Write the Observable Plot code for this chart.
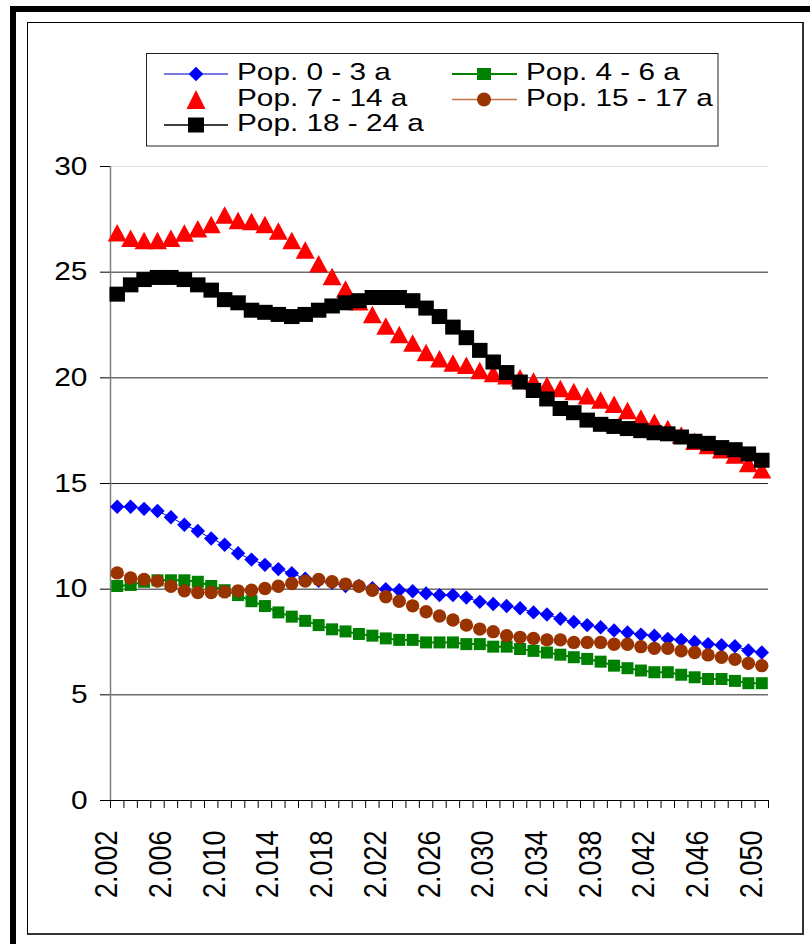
<!DOCTYPE html>
<html><head><meta charset="utf-8">
<script src="https://cdn.jsdelivr.net/npm/d3@7"></script>
<script src="https://cdn.jsdelivr.net/npm/@observablehq/plot@0.6"></script>
<style>
html,body{margin:0;padding:0;background:#fff;}
#wrap{position:relative;width:810px;height:944px;overflow:hidden;background:#fff;font-family:"Liberation Sans",Arial,sans-serif;}
#outer{position:absolute;left:10px;top:6px;width:820px;height:960px;border-left:6px solid #000;border-top:6px solid #000;}
#inner{position:absolute;left:27px;top:22px;width:777px;height:913px;box-sizing:border-box;border-left:1px solid #000;border-top:1px solid #000;border-right:2px solid #333;border-bottom:2px solid #333;}
#chart{position:absolute;left:0;top:0;}
#legend{position:absolute;left:0;top:0;}
</style></head>
<body>
<div id="wrap"><div id="outer"></div><div id="inner"></div><div id="chart"></div><svg id="legend" width="810" height="944"></svg></div>
<script>
const years = [2002,2003,2004,2005,2006,2007,2008,2009,2010,2011,2012,2013,2014,2015,2016,2017,2018,2019,2020,2021,2022,2023,2024,2025,2026,2027,2028,2029,2030,2031,2032,2033,2034,2035,2036,2037,2038,2039,2040,2041,2042,2043,2044,2045,2046,2047,2048,2049,2050];
const xLabelYears = [2002,2006,2010,2014,2018,2022,2026,2030,2034,2038,2042,2046,2050];
const yTicks = [0,5,10,15,20,25,30];
const seriesNames = ["Pop. 0 - 3 a","Pop. 4 - 6 a","Pop. 7 - 14 a","Pop. 15 - 17 a","Pop. 18 - 24 a"];

const pop0_3 = [13.9,13.9,13.8,13.7,13.4,13.05,12.75,12.4,12.1,11.7,11.4,11.15,10.95,10.75,10.5,10.4,10.3,10.15,10.15,10.05,10.0,9.95,9.9,9.8,9.72,9.72,9.6,9.4,9.3,9.2,9.1,8.9,8.8,8.6,8.45,8.3,8.2,8.05,7.95,7.85,7.8,7.65,7.6,7.5,7.4,7.35,7.3,7.1,7.0];
const pop4_6 = [10.15,10.2,10.35,10.42,10.42,10.42,10.35,10.15,9.95,9.72,9.43,9.2,8.9,8.7,8.5,8.3,8.1,8.0,7.88,7.8,7.67,7.6,7.6,7.48,7.48,7.48,7.4,7.4,7.28,7.28,7.17,7.08,7.0,6.9,6.78,6.7,6.57,6.38,6.26,6.15,6.07,6.07,5.95,5.83,5.75,5.75,5.66,5.55,5.55];
const pop7_14 = [26.87,26.6,26.5,26.5,26.6,26.85,27.05,27.25,27.7,27.45,27.4,27.25,26.95,26.5,26.05,25.4,24.8,24.2,23.6,23.0,22.45,22.05,21.65,21.2,20.9,20.7,20.6,20.35,20.2,20.1,20.0,19.85,19.65,19.5,19.35,19.15,18.95,18.75,18.45,18.1,17.9,17.6,17.3,17.0,16.8,16.6,16.35,15.95,15.65];
const pop15_17 = [10.77,10.53,10.46,10.38,10.14,9.92,9.84,9.84,9.87,9.92,9.95,10.03,10.14,10.27,10.38,10.46,10.35,10.24,10.14,9.95,9.64,9.43,9.21,8.93,8.73,8.54,8.3,8.11,7.99,7.8,7.72,7.67,7.6,7.6,7.48,7.48,7.48,7.39,7.39,7.28,7.2,7.2,7.08,7.0,6.89,6.78,6.68,6.49,6.38];
const pop18_24 = [23.96,24.4,24.65,24.75,24.75,24.65,24.4,24.15,23.7,23.55,23.2,23.1,23.0,22.9,23.0,23.2,23.4,23.55,23.65,23.8,23.8,23.8,23.65,23.3,22.9,22.4,21.9,21.3,20.75,20.25,19.8,19.4,19.0,18.55,18.35,18.0,17.8,17.7,17.6,17.5,17.4,17.35,17.2,17.0,16.9,16.7,16.6,16.4,16.1];

const colors = ["#0000ff","#008000","#ff0000","#993300","#000000"];

// marker symbols (pixel sizes)
const diamondSym = h => ({draw(ctx){ctx.moveTo(0,-h);ctx.lineTo(h,0);ctx.lineTo(0,h);ctx.lineTo(-h,0);ctx.closePath();}});
const rectSym = (w,h) => ({draw(ctx){ctx.rect(-w/2,-h/2,w,h);}});
const triSym = (w,h) => ({draw(ctx){ctx.moveTo(0,-h/2);ctx.lineTo(w/2,h/2);ctx.lineTo(-w/2,h/2);ctx.closePath();}});
const circSym = r => ({draw(ctx){ctx.moveTo(r,0);ctx.arc(0,0,r,0,2*Math.PI);}});

const rows = vals => years.map((yr,i) => ({year: yr, v: vals[i]}));
const d0 = rows(pop0_3), d1 = rows(pop4_6), d2 = rows(pop7_14), d3s = rows(pop15_17), d4 = rows(pop18_24);

const boundaries = years.map(y => y - 0.5).concat([years[years.length-1] + 0.5]);
const es = d3.formatLocale({decimal: ",", thousands: ".", grouping: [3], currency: ["", "€"]});
const fmtYear = es.format(",d");
const yLabelStrings = yTicks.map(String);

const chart = Plot.plot({
  width: 810, height: 944,
  marginLeft: 110, marginRight: 42, marginTop: 166, marginBottom: 144,
  style: {background: "transparent", fontFamily: "'Liberation Sans', Arial, sans-serif", fontSize: "26px", color: "#000", overflow: "visible"},
  x: {domain: [boundaries[0], boundaries[boundaries.length-1]], ticks: boundaries, tickFormat: () => "", tickSize: 8, label: null},
  y: {domain: [0, 30], ticks: yTicks, tickSize: 10, tickFormat: () => "", label: null},
  marks: [
    Plot.ruleY(yTicks.filter(t => t > 0 && t < 30), {stroke: "#222", strokeWidth: 1}),
    Plot.ruleY([30], {stroke: "#e4e4e4", strokeWidth: 1}),
    Plot.ruleX([boundaries[0]], {stroke: "#808080", strokeWidth: 1.5}),
    Plot.ruleY([0], {stroke: "#000", strokeWidth: 1}),
    Plot.text(yTicks, {x: () => boundaries[0], y: d => d, text: d => String(d), textAnchor: "end", dx: -23, fontSize: 26, fill: "#000"}),
    Plot.text(xLabelYears, {x: d => d, frameAnchor: "bottom", text: d => fmtYear(d), rotate: -90, textAnchor: "end", dy: 30, fontSize: 27, fill: "#000"}),
    // Pop 0-3
    Plot.line(d0, {x: "year", y: "v", stroke: colors[0], strokeWidth: 1}),
    Plot.dot(d0, {x: "year", y: "v", symbol: diamondSym(7.2), fill: colors[0], stroke: null}),
    // Pop 4-6
    Plot.line(d1, {x: "year", y: "v", stroke: colors[1], strokeWidth: 2}),
    Plot.dot(d1, {x: "year", y: "v", symbol: rectSym(12,12), fill: colors[1], stroke: null}),
    // Pop 7-14 (markers only)
    Plot.dot(d2, {x: "year", y: "v", symbol: triSym(19,17.5), fill: colors[2], stroke: null}),
    // Pop 15-17
    Plot.line(d3s, {x: "year", y: "v", stroke: "#c8704a", strokeWidth: 1}),
    Plot.dot(d3s, {x: "year", y: "v", symbol: circSym(6.7), fill: colors[3], stroke: null}),
    // Pop 18-24
    Plot.line(d4, {x: "year", y: "v", stroke: colors[4], strokeWidth: 1}),
    Plot.dot(d4, {x: "year", y: "v", symbol: rectSym(15.5,15), fill: colors[4], stroke: null})
  ]
});
// widen glyphs slightly, like the reference's stretched font
d3.select(chart).selectAll("text").each(function() {
  const s = (this.textContent || "").trim();
  const t = this.getAttribute("transform");
  if (!t) return;
  const isX = t.includes("rotate");
  const isY = !isX && yLabelStrings.includes(s);
  if (!isX && !isY) return;
  this.setAttribute("transform", t + (isX ? " scale(1,1.15)" : " scale(1.15,1)"));
});
document.getElementById("chart").appendChild(chart);

// Legend
const leg = d3.select("#legend");
leg.append("rect").attr("x", 146.5).attr("y", 53.5).attr("width", 571.5).attr("height", 92.5)
  .attr("fill", "#fff").attr("stroke", "#222").attr("stroke-width", 1);
const cols = [{l1: 164, l2: 228, mx: 196, tx: 237}, {l1: 452, l2: 517, mx: 484, tx: 526}];
const baselines = [80, 105.5, 131];
const legItems = [
  {name: seriesNames[0], col: 0, row: 0, line: "#4d4dd9", lw: 1.3, fill: colors[0], sym: diamondSym(7.3)},
  {name: seriesNames[1], col: 1, row: 0, line: "#008000", lw: 2, fill: colors[1], sym: rectSym(14,12)},
  {name: seriesNames[2], col: 0, row: 1, line: null, lw: 0, fill: colors[2], sym: triSym(19,19)},
  {name: seriesNames[3], col: 1, row: 1, line: "#c8704a", lw: 1.3, fill: colors[3], sym: circSym(7)},
  {name: seriesNames[4], col: 0, row: 2, line: "#000", lw: 1.3, fill: colors[4], sym: rectSym(16,15)}
];
for (const it of legItems) {
  const c = cols[it.col];
  const b = baselines[it.row];
  const cy = b - 6;
  if (it.line) {
    leg.append("line").attr("x1", c.l1).attr("x2", c.l2).attr("y1", cy).attr("y2", cy)
      .attr("stroke", it.line).attr("stroke-width", it.lw);
  }
  leg.append("path").attr("d", d3.symbol().type(it.sym)()).attr("transform", `translate(${c.mx},${cy})`).attr("fill", it.fill);
  leg.append("text").attr("transform", `translate(${c.tx},${b}) scale(1.24,1)`)
    .attr("font-family", "'Liberation Sans', Arial, sans-serif").attr("font-size", 24).attr("fill", "#000")
    .text(it.name);
}
</script>
</body></html>
